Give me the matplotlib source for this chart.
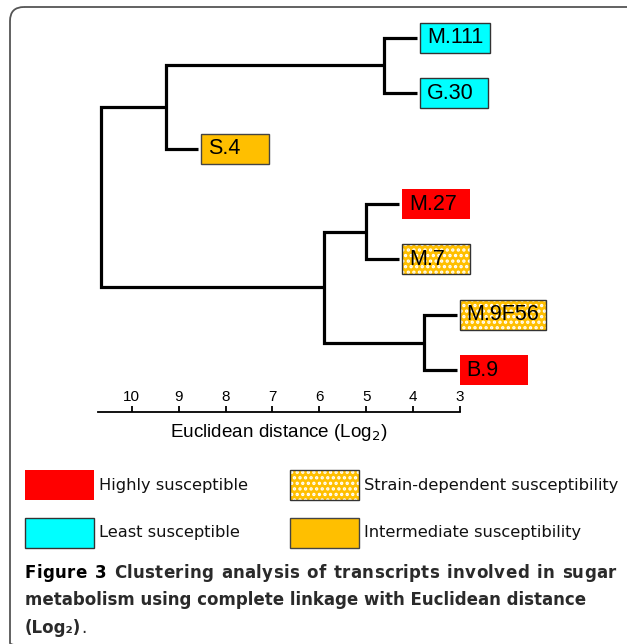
import matplotlib
matplotlib.use('Agg')
import matplotlib.pyplot as plt
from matplotlib.patches import Rectangle, FancyBboxPatch

# leaves top to bottom and their susceptibility group
leaves = ['M.111', 'G.30', 'S.4', 'M.27', 'M.7', 'M.9F56', 'B.9']
groups = ['least', 'least', 'inter', 'high', 'strain', 'strain', 'high']

# merges: (child a, child b, euclidean distance); new clusters numbered from 7
merges = [
    (0, 1, 4.62),
    (7, 2, 9.28),
    (3, 4, 5.00),
    (5, 6, 3.77),
    (9, 10, 5.91),
    (8, 11, 10.66),
]
ticks = [10, 9, 8, 7, 6, 5, 4, 3]

legend_items = [
    ('high', 'Highly susceptible'),
    ('strain', 'Strain-dependent susceptibility'),
    ('least', 'Least susceptible'),
    ('inter', 'Intermediate susceptibility'),
]
caption_1 = ['Figure', '3', 'Clustering', 'analysis', 'of', 'transcripts', 'involved', 'in', 'sugar']
caption_2 = 'metabolism using complete linkage with Euclidean distance'
caption_3 = '(Log\u2082)'

colors = {'high': '#FF0000', 'least': '#00FFFF', 'inter': '#FFBF00', 'strain': '#FFBF00'}
edges = {'high': 'none', 'least': '#333333', 'inter': '#444444', 'strain': '#333333'}

plt.rcParams['font.family'] = 'Liberation Sans'
plt.rcParams['hatch.linewidth'] = 1.6
W, H = 627, 644
fig = plt.figure(figsize=(W / 100, H / 100), dpi=100)

lay = fig.add_axes([0, 0, 1, 1])
lay.set_xlim(0, W)
lay.set_ylim(H, 0)
lay.axis('off')
lay.add_patch(FancyBboxPatch((10, 7), 640, 650, boxstyle='round,pad=0,rounding_size=14',
                             fill=False, ec='#555555', lw=1.3))

ax = fig.add_axes([98 / W, 1 - 398 / H, 362 / W, 388 / H])
ax.set_xlim(10.72, 3.0)
ax.set_ylim(6.5, -0.5)
ax.axis('off')

STUB = 0.70
n = len(leaves)
pos = {i: (None, float(i)) for i in range(n)}
for k, (a, b, h) in enumerate(merges):
    pts = []
    for c in (a, b):
        cx, cy = pos[c]
        if cx is None:
            cx = h - STUB
            pos[c] = (cx, cy)
        pts.append((cx, cy))
    ax.plot([pts[0][0], h, h, pts[1][0]], [pts[0][1], pts[0][1], pts[1][1], pts[1][1]],
            color='black', lw=2.3, solid_joinstyle='miter', solid_capstyle='butt')
    pos[n + k] = (h, (pts[0][1] + pts[1][1]) / 2)


def swatch(g, x, y, w, h):
    lay.add_patch(Rectangle((x, y), w, h, fc=colors[g], ec='none'))
    if g == 'strain':
        lay.add_patch(Rectangle((x, y), w, h, fill=False, ec='white', lw=0, hatch='...'))
    if edges[g] != 'none':
        lay.add_patch(Rectangle((x, y), w, h, fill=False, ec=edges[g], lw=1.0))


fig.canvas.draw()
r = fig.canvas.get_renderer()
to_lay = lay.transData.inverted()
for i, name in enumerate(leaves):
    dx, dy = ax.transData.transform(pos[i])
    px, py = to_lay.transform((dx, dy))
    t = lay.text(px + 10, py, name, fontsize=15.5, va='center', ha='left', zorder=5)
    tw = t.get_window_extent(r).width
    bw = max(68, tw + 14)
    swatch(groups[i], px + 3, py - 15, bw, 30)

# distance scale
ax2 = fig.add_axes([98 / W, 1 - 412 / H, 362 / W, 0.0001])
ax2.set_xlim(10.72, 3.0)
ax2.set_xticks(ticks)
ax2.set_yticks([])
for s in ['left', 'right', 'bottom']:
    ax2.spines[s].set_visible(False)
ax2.spines['top'].set_linewidth(1.3)
ax2.xaxis.set_ticks_position('top')
ax2.tick_params(axis='x', direction='out', length=4, width=1.3, pad=1.5, labelsize=11)
ax2.xaxis.set_label_position('bottom')
ax2.set_xlabel('Euclidean distance (Log$_2$)', fontsize=13.6, labelpad=7.5)

# legend
lx = [25, 290]
ly = [470, 518]
for k, (g, label) in enumerate(legend_items):
    x = lx[k % 2]
    y = ly[k // 2]
    swatch(g, x, y, 69, 30)
    lay.text(x + 74, y + 15, label, fontsize=11.7, family='DejaVu Sans', va='center', ha='left',
             color='#111111')

# caption, first line justified by spreading letters and words
cap = dict(fontsize=12, family='DejaVu Sans', weight='bold', va='center', ha='left', color='#2a2a2a')
x0, x1 = 25, 616
space = 5.8
chars = []
for wi, w in enumerate(caption_1):
    row = []
    for ch in w:
        t = lay.text(0, 573, ch, **cap)
        if wi < 2:
            t.set_color('#000000')
        row.append((t, t.get_window_extent(r).width))
    chars.append(row)
natural = sum(cw for row in chars for _, cw in row) + space * (len(chars) - 1)
n_inner = sum(len(row) - 1 for row in chars)
n_space = len(chars) - 1
unit = (x1 - x0 - natural) / (n_inner + 5 * n_space)
x = x0
for wi, row in enumerate(chars):
    for ci, (t, cw) in enumerate(row):
        t.set_x(x)
        x += cw + (unit if ci < len(row) - 1 else 0)
    x += space + 5 * unit
lay.text(x0, 600, caption_2, **cap)
t3 = lay.text(x0, 628, caption_3, **cap)
w3 = t3.get_window_extent(r).width
lay.text(x0 + w3, 628, '.', fontsize=12, family='DejaVu Sans', va='center', ha='left', color='#2a2a2a')

fig.savefig('out.png', dpi=100)
